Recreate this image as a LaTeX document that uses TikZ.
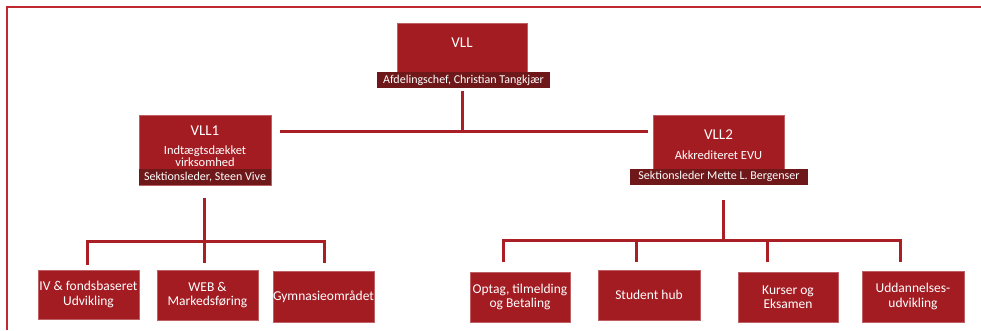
\documentclass[tikz,border=0pt]{standalone}
\usepackage{fontspec}
\setmainfont{Carlito}
\definecolor{boxred}{RGB}{163,28,34}
\definecolor{stripdark}{RGB}{110,24,26}
\definecolor{linered}{RGB}{170,30,38}
\definecolor{framered}{RGB}{192,40,48}
\begin{document}
\begin{tikzpicture}[x=1pt,y=-1pt,
  box/.style={fill=boxred,draw=boxred!70!white,line width=0.4pt,inner sep=0pt,anchor=center},
  strip/.style={fill=stripdark,text=white,inner sep=0pt,anchor=center,font=\fontsize{12}{13}\selectfont},
  title/.style={text=white,inner sep=0pt,font=\fontsize{15}{17}\selectfont},
  sub/.style={text=white,inner sep=0pt,align=center,font=\fontsize{12.5}{12.5}\selectfont},
  leaf/.style={box,text=white,align=center,font=\fontsize{13.5}{14.5}\selectfont},
  conn/.style={draw=linered,line width=3pt}]
\useasboundingbox (0,0) rectangle (981,330);
% frame
\draw[framered,line width=1.6pt] (7,330) -- (7,7) -- (981,7);
% top
\node[box,minimum width=130pt,minimum height=49pt] (vll) at (462,47.5) {};
\node[title] (vllt) at (462,43) {VLL};
\node[strip,minimum width=173pt,minimum height=16pt] (vlls) at (463.5,80) {Afdelingschef, Christian Tangkjær};
% level 2
\node[box,minimum width=132pt,minimum height=70pt] (vll1) at (205,150) {};
\node[title] (vll1t) at (205,131) {VLL1};
\node[sub] (vll1d) at (205,156) {Indtægtsdækket\\virksomhed};
\node[strip,minimum width=132pt,minimum height=16pt] (vll1s) at (205,177) {Sektionsleder, Steen Vive};
\node[box,minimum width=131pt,minimum height=69pt] (vll2) at (718.5,150) {};
\node[title] (vll2t) at (718.5,135) {VLL2};
\node[sub] (vll2d) at (718.5,155) {Akkrediteret EVU};
\node[strip,minimum width=178pt,minimum height=16pt] (vll2s) at (719,176.5) {Sektionsleder Mette L. Bergenser};
% leaves
\node[leaf,minimum width=101pt,minimum height=49pt] (iv) at (88.5,294.5) {IV \& fondsbaseret\\Udvikling};
\node[leaf,minimum width=101pt,minimum height=50pt] (web) at (207.5,295) {WEB \&\\Markedsføring};
\node[leaf,minimum width=99pt,minimum height=51pt] (gym) at (323.5,296.5) {Gymnasieområdet};
\node[leaf,minimum width=100pt,minimum height=50pt] (opt) at (520,297) {Optag, tilmelding\\og Betaling};
\node[leaf,minimum width=102pt,minimum height=50pt] (stu) at (649,295) {Student hub};
\node[leaf,minimum width=100pt,minimum height=50pt] (kur) at (788,297) {Kurser og\\Eksamen};
\node[leaf,minimum width=102pt,minimum height=51pt] (udd) at (913,296.5) {Uddannelses-\\udvikling};
% connector coordinates
\coordinate (a0) at (462,91);
\coordinate (a1) at (462,131);
\coordinate (aL) at (280,131);
\coordinate (aR) at (648,131);
\coordinate (b0) at (204,198);
\coordinate (b1) at (204,241);
\coordinate (b2) at (204,263);
\coordinate (bL) at (87,241);
\coordinate (bLe) at (87,265);
\coordinate (bR) at (324,241);
\coordinate (bRe) at (324,263);
\coordinate (c0) at (723,200);
\coordinate (c1) at (723,240);
\coordinate (cA) at (503,240);
\coordinate (cAe) at (503,262);
\coordinate (cB) at (636,240);
\coordinate (cBe) at (636,262);
\coordinate (cC) at (767,240);
\coordinate (cCe) at (767,262);
\coordinate (cD) at (900,240);
\coordinate (cDe) at (900,262);
% connectors
\draw[conn] (a0) -- (a1);
\draw[conn] (aL) -- (aR);
\draw[conn] (b0) -- (b2);
\draw[conn] (bLe) -- (bL) -- (bR) -- (bRe);
\draw[conn] (c0) -- (c1);
\draw[conn] (cAe) -- (cA) -- (cD) -- (cDe);
\draw[conn] (cB) -- (cBe);
\draw[conn] (cC) -- (cCe);
\end{tikzpicture}
\end{document}
